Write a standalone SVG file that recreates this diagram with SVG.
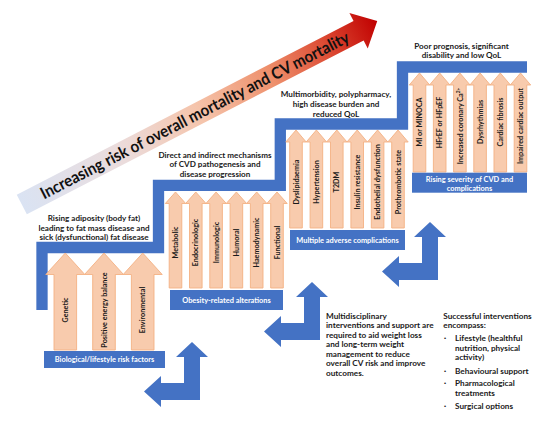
<svg xmlns="http://www.w3.org/2000/svg" width="546" height="423" viewBox="0 0 546 423">
<defs>
<linearGradient id="gRisk" gradientUnits="userSpaceOnUse" x1="0" y1="0" x2="400" y2="0">
<stop offset="0" stop-color="#dae3f3"/>
<stop offset="0.28" stop-color="#ebdcdc"/>
<stop offset="0.5" stop-color="#f5c4ab"/>
<stop offset="0.7" stop-color="#ee906c"/>
<stop offset="0.86" stop-color="#dc4a33"/>
<stop offset="1" stop-color="#c00000"/>
</linearGradient>
<path id="a1" d="M0,0 L19.5,21.5 L11.3,21.5 L11.3,97 L-11.3,97 L-11.3,21.5 L-19.5,21.5 Z"/>
<path id="a2" d="M0,0 L10.2,11.5 L6.3,11.5 L6.3,96 L-6.3,96 L-6.3,11.5 L-10.2,11.5 Z"/>
<path id="a3" d="M0,0 L10.2,12 L6.3,12 L6.3,98 L-6.3,98 L-6.3,12 L-10.2,12 Z"/>
<path id="a4" d="M0,0 L10.2,12 L6.3,12 L6.3,99 L-6.3,99 L-6.3,12 L-10.2,12 Z"/>
<path id="bend" d="M192,342 L208,357 L200,357 L200,400 L161,400 L161,407 L144,391.5 L161,376 L161,383 L184,383 L184,357 L176,357 Z"/>
</defs>
<style>
.ar{fill:#f8cbad;stroke:#f4b183;stroke-width:0.9}
.lb{font-family:Lato,"Liberation Sans",sans-serif;font-weight:700;font-size:7.2px;fill:#1a1a1a;text-anchor:middle}
.bx{fill:#4472c4}
.bt{font-family:Lato,"Liberation Sans",sans-serif;font-weight:700;font-size:7.4px;fill:#ffffff;text-anchor:middle}
.cap{font-family:Lato,"Liberation Sans",sans-serif;font-weight:700;font-size:8.1px;fill:#1a1a1a;text-anchor:middle}
.para{font-family:Lato,"Liberation Sans",sans-serif;font-weight:700;font-size:8.2px;fill:#1a1a1a}
.bul{font-family:"Liberation Sans",sans-serif;font-size:6px;fill:#1a1a1a}
.stair{fill:none;stroke:#4472c4;stroke-width:11.3;stroke-linejoin:miter;stroke-linecap:butt}
.blue{fill:#4472c4}
.big{font-family:Lato,"Liberation Sans",sans-serif;font-weight:700;font-size:16.5px;fill:#111111}
</style>
<rect width="546" height="423" fill="#ffffff"/>

<g id="connectors">
<g id="risk-arrow" transform="translate(21.8,204.5) rotate(-27.3)">
<path d="M0,-11 L379,-11 L379,-20 L400,0 L379,20 L379,11 L0,11 Z" fill="url(#gRisk)"/>
<text class="big" x="22" y="5.8" textLength="345" lengthAdjust="spacingAndGlyphs">Increasing risk of overall mortality and CV mortality</text>
</g>
<polyline id="staircase" class="stair" points="42,310 42,247.5 158.5,247.5 158.5,185.3 280.3,185.3 280.3,124 402.5,124 402.5,67 527,67"/>
<use id="bend-1" href="#bend" class="blue"/>
<use id="bend-2" href="#bend" class="blue" x="120" y="-60"/>
<use id="bend-3" href="#bend" class="blue" x="238" y="-120"/>
</g>

<g id="step1-caption"><text class="cap"><tspan x="94" y="221">Rising adiposity (body fat)</tspan><tspan x="94" y="230.5">leading to fat mass disease and</tspan><tspan x="94" y="240">sick (dysfunctional) fat disease</tspan></text></g>
<g id="step2-caption"><text class="cap"><tspan x="215" y="158">Direct and indirect mechanisms</tspan><tspan x="215" y="167.4">of CVD pathogenesis and</tspan><tspan x="215" y="176.8">disease progression</tspan></text></g>
<g id="step3-caption"><text class="cap"><tspan x="336" y="97.3">Multimorbidity, polypharmacy,</tspan><tspan x="336" y="107">high disease burden and</tspan><tspan x="336" y="116.7">reduced QoL</tspan></text></g>
<g id="step4-caption"><text class="cap"><tspan x="461.5" y="49">Poor prognosis, significant</tspan><tspan x="461.5" y="58.2">disability and low QoL</tspan></text></g>

<g id="n-genetic"><use href="#a1" class="ar" x="65.3" y="253"/><text class="lb" transform="translate(67.9,310) rotate(-90)">Genetic</text></g>
<g id="n-positive-energy"><use href="#a1" class="ar" x="104" y="253"/><text class="lb" transform="translate(106.6,310) rotate(-90)">Positive energy balance</text></g>
<g id="n-environmental"><use href="#a1" class="ar" x="142.7" y="253"/><text class="lb" transform="translate(145.3,310) rotate(-90)">Environmental</text></g>
<g id="box-biological"><rect class="bx" x="44" y="351" width="121" height="17"/><text class="bt" x="104.5" y="362">Biological/lifestyle risk factors</text></g>

<g id="n-metabolic"><use href="#a2" class="ar" x="175.5" y="192"/><text class="lb" transform="translate(178.1,242.5) rotate(-90)">Metabolic</text></g>
<g id="n-endocrinologic"><use href="#a2" class="ar" x="195.8" y="192"/><text class="lb" transform="translate(198.4,242.5) rotate(-90)">Endocrinologic</text></g>
<g id="n-immunologic"><use href="#a2" class="ar" x="216.1" y="192"/><text class="lb" transform="translate(218.7,242.5) rotate(-90)">Immunologic</text></g>
<g id="n-humoral"><use href="#a2" class="ar" x="236.4" y="192"/><text class="lb" transform="translate(239,242.5) rotate(-90)">Humoral</text></g>
<g id="n-haemodynamic"><use href="#a2" class="ar" x="256.7" y="192"/><text class="lb" transform="translate(259.3,242.5) rotate(-90)">Haemodynamic</text></g>
<g id="n-functional"><use href="#a2" class="ar" x="277" y="192"/><text class="lb" transform="translate(279.6,242.5) rotate(-90)">Functional</text></g>
<g id="box-obesity"><rect class="bx" x="170" y="290" width="113" height="20"/><text class="bt" x="226.5" y="302.6">Obesity-related alterations</text></g>

<g id="n-dyslipidaemia"><use href="#a3" class="ar" x="296" y="130"/><text class="lb" transform="translate(298.6,182) rotate(-90)">Dyslipidaemia</text></g>
<g id="n-hypertension"><use href="#a3" class="ar" x="316.4" y="130"/><text class="lb" transform="translate(319,182) rotate(-90)">Hypertension</text></g>
<g id="n-t2dm"><use href="#a3" class="ar" x="336.8" y="130"/><text class="lb" transform="translate(339.4,182) rotate(-90)">T2DM</text></g>
<g id="n-insulin"><use href="#a3" class="ar" x="357.2" y="130"/><text class="lb" transform="translate(359.8,182) rotate(-90)">Insulin resistance</text></g>
<g id="n-endothelial"><use href="#a3" class="ar" x="377.6" y="130"/><text class="lb" transform="translate(380.2,182) rotate(-90)">Endothelial dysfunction</text></g>
<g id="n-prothrombotic"><use href="#a3" class="ar" x="398" y="130"/><text class="lb" transform="translate(400.6,182) rotate(-90)">Prothrombotic state</text></g>
<g id="box-complications"><rect class="bx" x="290" y="230" width="115" height="20"/><text class="bt" x="347.5" y="242.6">Multiple adverse complications</text></g>

<g id="n-mi"><use href="#a4" class="ar" x="419.5" y="73"/><text class="lb" transform="translate(422.1,122) rotate(-90)">MI or MINOCA</text></g>
<g id="n-hfref"><use href="#a4" class="ar" x="439.7" y="73"/><text class="lb" transform="translate(442.3,122.5) rotate(-90)">HFrEF or HFpEF</text></g>
<g id="n-coronary"><use href="#a4" class="ar" x="459.9" y="73"/><text class="lb" transform="translate(462.5,126) rotate(-90)">Increased coronary Ca<tspan font-size="4.8" baseline-shift="super">2+</tspan></text></g>
<g id="n-dysrhythmias"><use href="#a4" class="ar" x="480.1" y="73"/><text class="lb" transform="translate(482.7,122) rotate(-90)">Dysrhythmias</text></g>
<g id="n-fibrosis"><use href="#a4" class="ar" x="500.3" y="73"/><text class="lb" transform="translate(502.9,122) rotate(-90)">Cardiac fibrosis</text></g>
<g id="n-output"><use href="#a4" class="ar" x="520.5" y="73"/><text class="lb" transform="translate(523.1,126) rotate(-90)">Impaired cardiac output</text></g>
<g id="box-severity"><rect class="bx" x="412" y="172.7" width="115" height="20"/><text class="bt"><tspan x="469.5" y="181.8">Rising severity of CVD and</tspan><tspan x="469.5" y="190.6">complications</tspan></text></g>

<g id="text-multidisciplinary"><text class="para"><tspan x="326" y="318.8">Multidisciplinary</tspan><tspan x="326" y="328.2">interventions and support are</tspan><tspan x="326" y="337.8">required to aid weight loss</tspan><tspan x="326" y="347.2">and long-term weight</tspan><tspan x="326" y="356.6">management to reduce</tspan><tspan x="326" y="366.1">overall CV risk and improve</tspan><tspan x="326" y="375.5">outcomes.</tspan></text></g>
<g id="text-successful"><text class="para"><tspan x="443.3" y="318.8">Successful interventions</tspan><tspan x="443.3" y="328.2">encompass:</tspan></text>
<text class="bul"><tspan x="444" y="340.4">•</tspan><tspan x="444" y="372.8">•</tspan><tspan x="444" y="385.4">•</tspan><tspan x="444" y="408.1">•</tspan></text>
<text class="para"><tspan x="455" y="341.1">Lifestyle (healthful</tspan><tspan x="455" y="350.5">nutrition, physical</tspan><tspan x="455" y="359.5">activity)</tspan><tspan x="455" y="373.5">Behavioural support</tspan><tspan x="455" y="386.1">Pharmacological</tspan><tspan x="455" y="395.5">treatments</tspan><tspan x="455" y="408.8">Surgical options</tspan></text></g>
</svg>
